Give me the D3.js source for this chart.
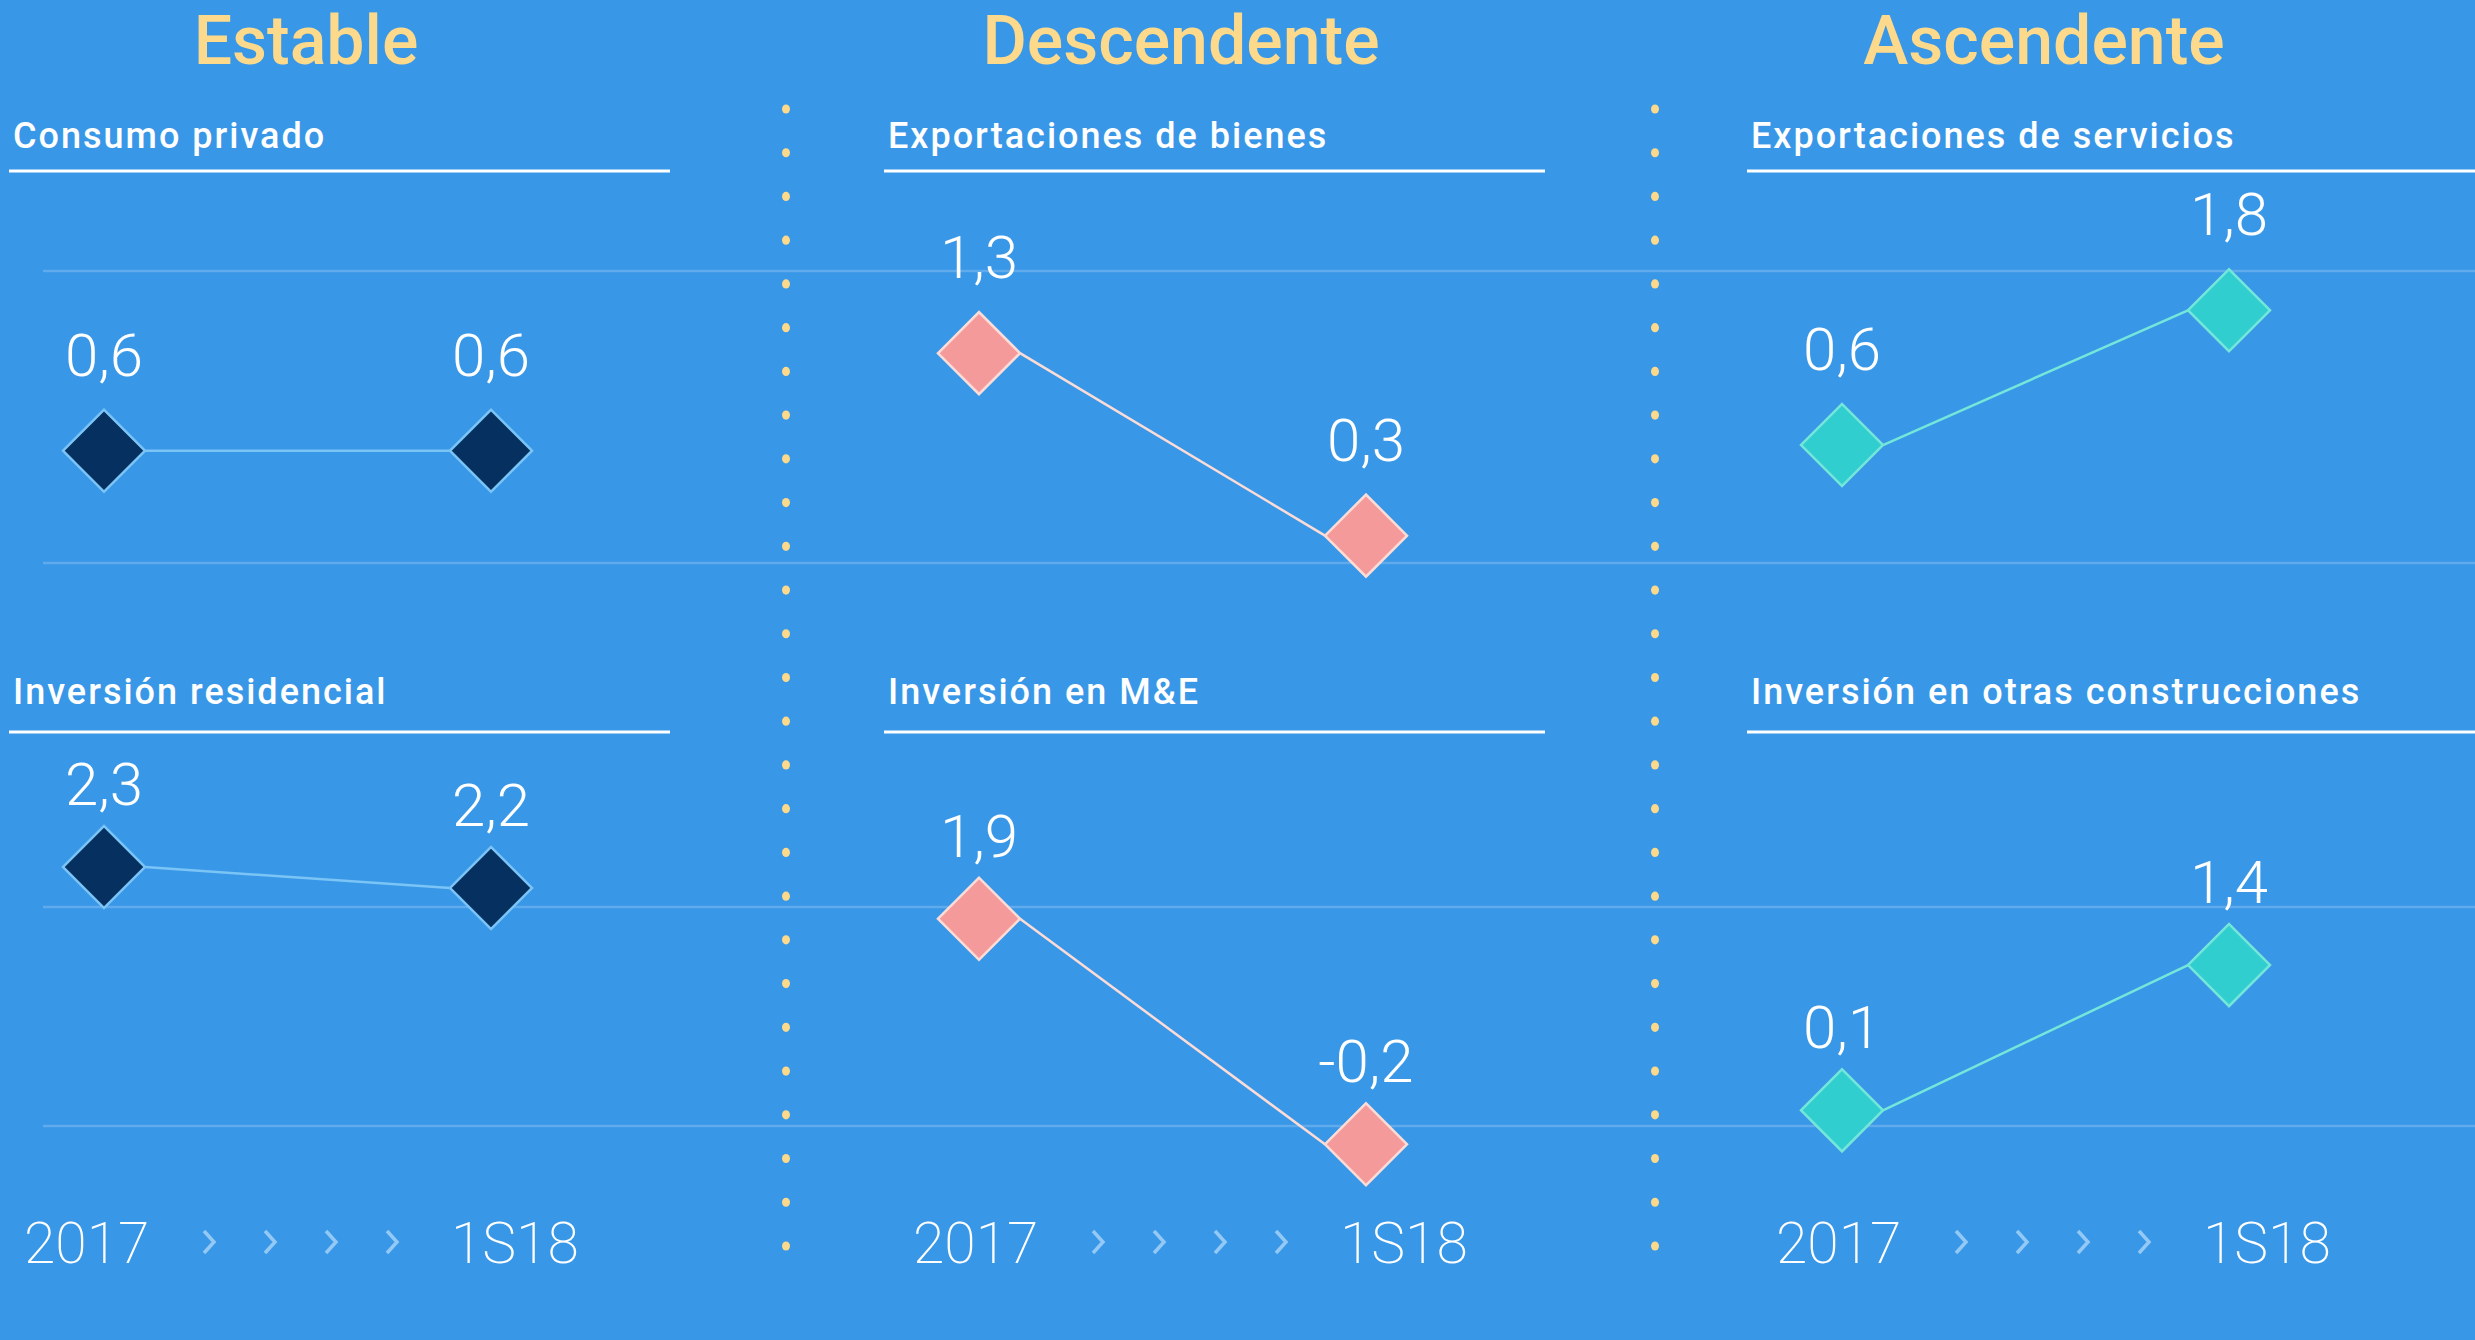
<!DOCTYPE html>
<html>
<head>
<meta charset="utf-8">
<script src="https://cdn.jsdelivr.net/npm/d3@7"></script>
<style>
  html, body { margin: 0; padding: 0; background: #3997e7; }
  svg { display: block; }
</style>
</head>
<body>
<svg id="chart"></svg>
<script>
const groups = ["Estable", "Descendente", "Ascendente"];
const periods = ["2017", "1S18"];

// panels listed column by column, top row first
const panelTitles = [
  "Consumo privado", "Exportaciones de bienes", "Exportaciones de servicios",
  "Inversión residencial", "Inversión en M&E", "Inversión en otras construcciones"
];
const values2017 = [0.6, 1.3, 0.6, 2.3, 1.9, 0.1];
const values1S18 = [0.6, 0.3, 1.8, 2.2, -0.2, 1.4];
// each small panel has its own vertical scale in the original
const yDomains = [[-0.4, 2.2], [0.15, 1.75], [-0.45, 2.15], [1.07, 2.11], [-0.03, 2.01], [-0.04, 1.92]];

const width = 2475, height = 1340;
const colX = [9, 884, 1747];
const axisX = [24, 913, 1776];
const separators = [786, 1655];
const rows = [
  {title: 148, rule: 171, grid: [271, 563], labelGap: 75},
  {title: 704, rule: 732, grid: [907, 1126], labelGap: 62}
];
const axisBaseline = 1263;

const fills = ["#05305f", "#f59a9a", "#31cecf"];
const strokes = ["#7ac4f6", "#fcdcd6", "#74e6da"];
const yellow = "#fcd98b";

const fmt = d3.formatLocale({decimal: ",", thousands: ".", grouping: [3], currency: ["", ""], minus: "-"}).format(".1f");

const svg = d3.select("#chart")
    .attr("width", width)
    .attr("height", height);

svg.append("rect")
    .attr("width", width)
    .attr("height", height)
    .attr("fill", "#3997e7");

// faint horizontal guides, full width
svg.append("g")
  .selectAll("line")
  .data(rows.flatMap(r => r.grid))
  .join("line")
    .attr("x1", 43)
    .attr("x2", width)
    .attr("y1", d => d)
    .attr("y2", d => d)
    .attr("stroke", "#ffffff")
    .attr("stroke-opacity", 0.2)
    .attr("stroke-width", 2.5);

// dotted column separators
const dotYs = d3.range(27).map(i => 109 + i * 43.73);
svg.append("g")
  .selectAll("g")
  .data(separators)
  .join("g")
  .selectAll("ellipse")
  .data(x => dotYs.map(y => [x, y]))
  .join("ellipse")
    .attr("cx", d => d[0])
    .attr("cy", d => d[1])
    .attr("rx", 4)
    .attr("ry", 4.6)
    .attr("fill", yellow);

// group headings
svg.append("g")
  .selectAll("text")
  .data(groups)
  .join("text")
    .attr("x", (d, i) => colX[i] + 297)
    .attr("y", 64)
    .attr("text-anchor", "middle")
    .attr("fill", yellow)
    .style("font", "500 68px Roboto, sans-serif")
    .text(d => d);

const diamond = d3.symbol(d3.symbolSquare, 58 * 58);
const half = 41;

panelTitles.forEach((name, p) => {
  const col = p % 3, row = rows[Math.floor(p / 3)];
  const x0 = colX[col];
  const vals = [values2017[p], values1S18[p]];

  const x = d3.scalePoint()
      .domain(periods)
      .range([x0 + 95, x0 + 482]);

  const y = d3.scaleLinear()
      .domain(yDomains[p])
      .range([row.grid[1], row.grid[0]]);

  const g = svg.append("g");

  g.append("text")
      .attr("x", x0 + 4)
      .attr("y", row.title)
      .attr("fill", "#fff")
      .style("font", "500 36px Roboto, sans-serif")
      .style("letter-spacing", "2px")
      .text(name);

  g.append("line")
      .attr("x1", x0)
      .attr("x2", col === 2 ? width : x0 + 661)
      .attr("y1", row.rule)
      .attr("y2", row.rule)
      .attr("stroke", "#fff")
      .attr("stroke-width", 3);

  // connector from the right tip of the first marker to the left tip of the second
  g.append("line")
      .attr("x1", x(periods[0]) + half)
      .attr("y1", y(vals[0]))
      .attr("x2", x(periods[1]) - half)
      .attr("y2", y(vals[1]))
      .attr("stroke", strokes[col])
      .attr("stroke-width", 2.5);

  g.selectAll("path")
    .data(vals)
    .join("path")
      .attr("d", diamond)
      .attr("transform", (d, i) => `translate(${x(periods[i])},${y(d)}) rotate(45)`)
      .attr("fill", fills[col])
      .attr("stroke", strokes[col])
      .attr("stroke-width", 2.5);

  g.selectAll("text.value")
    .data(vals)
    .join("text")
      .attr("class", "value")
      .attr("x", (d, i) => x(periods[i]))
      .attr("y", d => y(d) - row.labelGap)
      .attr("text-anchor", "middle")
      .attr("fill", "#fff")
      .style("font", "300 60px Roboto, sans-serif")
      .text(d => fmt(d));
});

// period labels under each column with chevrons between
axisX.forEach(ax => {
  const a = svg.append("g").attr("transform", `translate(${ax},${axisBaseline})`);

  a.append("text")
      .attr("x", 0)
      .attr("fill", "#fff")
      .style("font", "200 57px Roboto, sans-serif")
      .text(periods[0]);

  a.append("text")
      .attr("x", 427)
      .attr("fill", "#fff")
      .style("font", "200 57px Roboto, sans-serif")
      .text(periods[1]);

  a.selectAll("path")
    .data([185, 246, 307, 368])
    .join("path")
      .attr("d", d => `M${d - 5},-32L${d + 5},-21L${d - 5},-10`)
      .attr("fill", "none")
      .attr("stroke", "#93c9f4")
      .attr("stroke-width", 3.5);
});
</script>
</body>
</html>
